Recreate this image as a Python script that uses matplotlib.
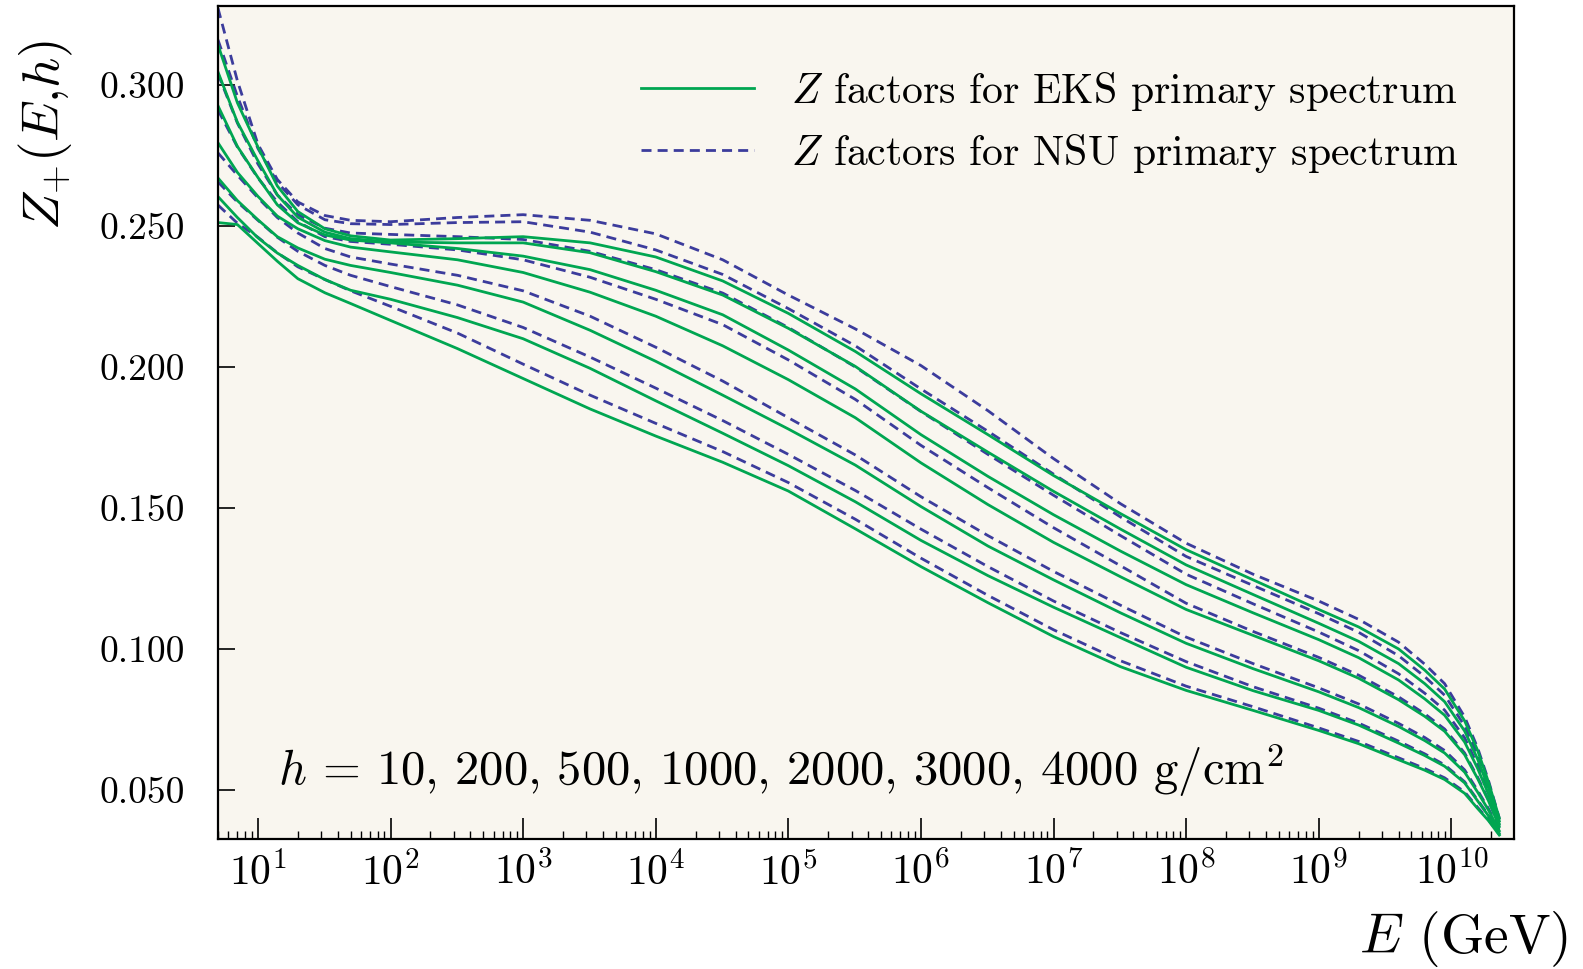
import matplotlib
matplotlib.use("Agg")
import matplotlib.pyplot as plt
from matplotlib.ticker import (LogLocator, NullFormatter, FixedLocator, FixedFormatter,
                               LogFormatterSciNotation)

plt.rcParams['font.family'] = 'serif'
plt.rcParams['font.serif'] = ['cmr10']
plt.rcParams['mathtext.fontset'] = 'cm'
plt.rcParams['axes.formatter.use_mathtext'] = True

energy = [5, 7, 10, 14, 20, 32, 50, 100, 320, 1e3, 3.2e3, 1e4, 3.2e4, 1e5, 3.2e5,
          1e6, 3.2e6, 1e7, 3.2e7, 1e8, 3.2e8, 1e9, 2e9, 4e9, 6.3e9, 8.9e9,
          1.26e10, 1.58e10, 1.9e10, 2.3e10]

# Z factors, EKS primary spectrum (solid green)
eks_1 = [.3142, .2937, .2780, .2642, .2551, .2490, .2465, .2450, .2455, .2462, .2440, .2390, .2305, .2190, .2055,
         .1905, .1760, .1615, .1480, .1352, .1245, .1140, .1078, .1000, .0925, .0858, .0745, .0640, .0530, .0400]
eks_2 = [.3046, .2868, .2731, .2610, .2531, .2478, .2455, .2443, .2440, .2440, .2405, .2338, .2255, .2137, .2002,
         .1843, .1698, .1559, .1425, .1298, .1193, .1091, .1027, .0948, .0877, .0813, .0709, .0609, .0509, .0390]
eks_3 = [.2926, .2782, .2672, .2575, .2511, .2468, .2450, .2440, .2420, .2393, .2345, .2272, .2185, .2060, .1922,
         .1760, .1612, .1476, .1347, .1228, .1128, .1033, .0969, .0890, .0823, .0765, .0670, .0576, .0487, .0380]
eks_4 = [.2795, .2690, .2605, .2535, .2490, .2448, .2425, .2408, .2380, .2335, .2265, .2180, .2075, .1955, .1820,
         .1660, .1512, .1378, .1256, .1140, .1048, .0958, .0896, .0820, .0761, .0708, .0625, .0540, .0463, .0370]
eks_5 = [.2670, .2590, .2522, .2462, .2422, .2382, .2360, .2335, .2290, .2230, .2130, .2020, .1900, .1780, .1652,
         .1505, .1365, .1245, .1128, .1020, .0930, .0848, .0792, .0725, .0675, .0631, .0563, .0492, .0430, .0355]
eks_6 = [.2604, .2530, .2458, .2404, .2360, .2310, .2272, .2240, .2175, .2100, .1995, .1880, .1765, .1650, .1522,
         .1385, .1260, .1148, .1040, .0935, .0852, .0782, .0730, .0666, .0622, .0584, .0525, .0461, .0409, .0345]
eks_7 = [.2512, .2505, .2438, .2375, .2313, .2263, .2225, .2165, .2065, .1959, .1851, .1755, .1662, .1560, .1426,
         .1292, .1164, .1044, .0937, .0853, .0782, .0711, .0664, .0607, .0570, .0537, .0488, .0434, .0392, .0340]

# Z factors, NSU primary spectrum (dashed blue)
nsu_1 = [.3272, .3015, .2790, .2665, .2585, .2537, .2520, .2515, .2530, .2540, .2520, .2472, .2380, .2255, .2135,
         .2005, .1845, .1675, .1515, .1375, .1265, .1170, .1105, .1024, .0946, .0877, .0759, .0649, .0536, .0400]
nsu_2 = [.3160, .2960, .2775, .2655, .2575, .2522, .2508, .2505, .2512, .2515, .2478, .2415, .2328, .2207, .2075,
         .1922, .1772, .1620, .1468, .1328, .1225, .1125, .1059, .0976, .0902, .0836, .0727, .0623, .0519, .0395]
nsu_3 = [.3040, .2865, .2720, .2610, .2540, .2492, .2475, .2470, .2462, .2452, .2410, .2345, .2262, .2140, .2000,
         .1842, .1690, .1545, .1402, .1265, .1160, .1060, .0994, .0912, .0843, .0783, .0685, .0588, .0496, .0385]
nsu_4 = [.2911, .2780, .2670, .2585, .2515, .2462, .2445, .2435, .2415, .2380, .2318, .2240, .2150, .2025, .1885,
         .1722, .1572, .1430, .1295, .1162, .1062, .0970, .0907, .0830, .0770, .0716, .0631, .0545, .0466, .0372]
nsu_5 = [.2759, .2680, .2600, .2530, .2475, .2420, .2390, .2365, .2325, .2270, .2180, .2070, .1950, .1820, .1688,
         .1540, .1402, .1275, .1155, .1042, .0948, .0862, .0805, .0736, .0686, .0640, .0571, .0498, .0435, .0358]
nsu_6 = [.2656, .2585, .2520, .2460, .2410, .2360, .2325, .2285, .2220, .2140, .2035, .1925, .1810, .1690, .1562,
         .1425, .1292, .1170, .1058, .0955, .0866, .0790, .0737, .0673, .0628, .0589, .0529, .0464, .0412, .0347]
nsu_7 = [.2574, .2510, .2460, .2405, .2355, .2310, .2270, .2215, .2120, .2010, .1900, .1800, .1700, .1590, .1460,
         .1322, .1190, .1068, .0958, .0868, .0795, .0720, .0672, .0614, .0576, .0543, .0493, .0438, .0395, .0342]

eks_curves = [eks_1, eks_2, eks_3, eks_4, eks_5, eks_6, eks_7]
nsu_curves = [nsu_1, nsu_2, nsu_3, nsu_4, nsu_5, nsu_6, nsu_7]

x_ticks = [1e1, 1e2, 1e3, 1e4, 1e5, 1e6, 1e7, 1e8, 1e9, 1e10]
y_ticks = [0.05, 0.10, 0.15, 0.20, 0.25, 0.30]
y_tick_labels = ['0.050', '0.100', '0.150', '0.200', '0.250', '0.300']

green = '#00a651'
blue = '#3c3c9c'

fig = plt.figure(figsize=(15.83, 9.69), dpi=100)
ax = fig.add_axes([218 / 1583, 1 - 839 / 969, (1514 - 218) / 1583, (839 - 6) / 969])
ax.set_facecolor('#f9f6ef')

for ys in nsu_curves:
    h_nsu, = ax.plot(energy, ys, color=blue, lw=2.0, ls=(0, (3.6, 2.2)))
for ys in eks_curves:
    h_eks, = ax.plot(energy, ys, color=green, lw=2.0)

ax.set_xscale('log')
ax.set_xlim(5, 2.97e10)
ax.set_ylim(0.0326, 0.328)

ax.xaxis.set_major_locator(FixedLocator(x_ticks))
ax.xaxis.set_major_formatter(LogFormatterSciNotation(base=10))
ax.xaxis.set_minor_locator(LogLocator(base=10, subs=range(2, 10), numticks=200))
ax.xaxis.set_minor_formatter(NullFormatter())
ax.yaxis.set_major_locator(FixedLocator(y_ticks))
ax.yaxis.set_major_formatter(FixedFormatter(y_tick_labels))

ax.tick_params(axis='x', which='major', direction='in', length=15, width=1.2,
               labelsize=30, pad=9, top=False)
ax.tick_params(axis='x', which='minor', direction='in', length=6, width=1.0, top=False)
ax.tick_params(axis='y', which='major', direction='in', length=12, width=1.2,
               labelsize=27, pad=24, right=False)
for s in ax.spines.values():
    s.set_linewidth(1.6)

leg = ax.legend([h_eks, h_nsu],
                [r'$Z$ factors for EKS primary spectrum', r'$Z$ factors for NSU primary spectrum'],
                loc='upper left', bbox_to_anchor=(641 / 1583, 1 - 70 / 969),
                bbox_transform=fig.transFigure, frameon=False, fontsize=30,
                handlelength=2.7, handletextpad=0.9, labelspacing=0.45,
                borderpad=0, borderaxespad=0)

ax.text(278 / 1583, 1 - 785 / 969,
        r'$h$ = 10, 200, 500, 1000, 2000, 3000, 4000 g/cm$^2$',
        transform=fig.transFigure, fontsize=35, ha='left', va='baseline')

fig.text(1568 / 1583, 1 - 953 / 969, r'$E$ (GeV)', fontsize=40, ha='right', va='baseline')
fig.text(46 / 1583, 1 - 40 / 969, r'$Z_{+}(E{,}h)$', fontsize=38, rotation=90,
         ha='center', va='top')

fig.savefig('out.png', dpi=100, facecolor='white')
